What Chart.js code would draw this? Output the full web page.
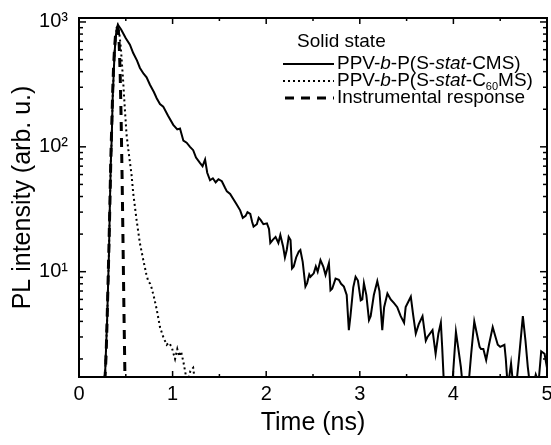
<!DOCTYPE html>
<html><head><meta charset="utf-8">
<script src="https://cdn.jsdelivr.net/npm/chart.js@4.4.1/dist/chart.umd.min.js"></script>
<style>html,body{margin:0;padding:0;background:#fff;}canvas{display:block;}</style>
</head><body>
<canvas id="c" width="551" height="445"></canvas>
<script>
// ---- data ----
const solidTime = [0.26,0.28,0.30,0.32,0.33,0.34,0.35,0.36,0.37,0.38,0.39,0.40,0.415,0.45,0.50,0.544,0.579,0.62,0.651,0.69,0.722,0.758,0.80,0.83,0.865,0.90,0.95,1.007,1.05,1.079,1.115,1.15,1.186,1.22,1.25,1.294,1.32,1.347,1.37,1.40,1.43,1.46,1.49,1.526,1.56,1.58,1.615,1.65,1.68,1.722,1.75,1.78,1.80,1.83,1.85,1.865,1.90,1.92,1.94,1.97,2.008,2.03,2.044,2.07,2.10,2.13,2.151,2.18,2.20,2.22,2.24,2.26,2.276,2.294,2.32,2.348,2.365,2.39,2.419,2.437,2.46,2.473,2.508,2.53,2.55,2.58,2.61,2.634,2.67,2.687,2.705,2.741,2.776,2.80,2.83,2.86,2.883,2.90,2.93,2.955,2.98,3.01,3.027,3.044,3.07,3.098,3.116,3.15,3.187,3.21,3.24,3.26,3.295,3.33,3.366,3.40,3.437,3.473,3.49,3.545,3.57,3.598,3.63,3.67,3.705,3.723,3.777,3.81,3.84,3.866,3.88,3.90,3.93,3.96,3.99,4.027,4.05,4.08,4.10,4.13,4.16,4.19,4.223,4.25,4.28,4.295,4.32,4.35,4.38,4.42,4.45,4.474,4.50,4.545,4.56,4.58,4.60,4.616,4.64,4.67,4.70,4.742,4.77,4.795,4.82,4.85,4.88,4.91,4.938,4.974,5.0];
const solidIntensity = [1.0,1.6,4,14,35,75,120,250,380,560,720,850,950,870,740,658,564,490,428,385,360,314,275,245,220,210,178,150,138,140,112,108,100,94,82,74,70,79,62,54,56,52,55,53,47,44,42,38,35,31,27,28,30,29,25,23,24,27,26,24,24.4,22,17,18,19,17,19.7,16,13,15,19,17.9,10.6,11,13,14.5,14.9,12,7.6,8.1,9.5,9.1,9.7,11,10,12.4,11,9.4,11.7,7.1,7.3,8.8,8.6,8.0,7.6,6.5,3.4,4.4,7.5,9.1,8.5,5.9,6.0,8.1,6.5,4.1,4.4,6.5,8.4,7.0,3.4,5.2,6.7,6.0,5.6,5.2,4.4,3.9,5.2,6.3,4.5,3.2,3.8,4.4,2.8,3.0,3.4,2.2,3.2,3.9,2.5,1.2,1.2,1.2,1.3,3.3,2.5,1.72,1.2,1.2,1.2,2.2,4.0,3.2,2.5,2.4,2.4,1.96,2.6,3.6,3.0,2.6,2.5,2.6,2.0,1.2,1.5,1.84,1.2,1.2,2.0,4.4,2.8,1.72,1.2,1.2,1.5,1.3,2.3,2.2,1.7];

const c60Time = [0.26,0.28,0.30,0.32,0.33,0.34,0.35,0.36,0.37,0.38,0.39,0.40,0.415,0.43,0.447,0.46,0.472,0.49,0.508,0.535,0.561,0.58,0.60,0.615,0.65,0.686,0.72,0.74,0.76,0.776,0.80,0.83,0.865,0.90,0.937,0.96,0.99,1.01,1.026,1.05,1.07,1.09,1.115,1.14,1.16,1.19,1.22,1.24];
const c60Intensity = [1.0,1.6,4,14,35,75,120,250,380,560,720,850,930,820,620,450,334,200,125,85,60,42,32,26,17,12.5,9.5,8.4,8.0,7.4,6.3,5.0,3.6,3.0,2.6,2.7,2.5,2.2,2.0,2.4,2.1,2.3,1.9,1.5,1.3,1.6,1.7,1.3];

const irfTime = [0.26,0.28,0.29,0.30,0.31,0.32,0.33,0.34,0.35,0.36,0.37,0.38,0.39,0.40,0.41,0.42,0.43,0.44,0.45,0.46,0.47,0.48,0.49,0.50];
const irfIntensity = [1.0,1.5,2.2,4,8,16,35,80,150,280,450,620,780,880,900,860,650,380,170,60,18,5,1.6,1.0];

const xTickValues = [0,1,2,3,4,5];
const yTickLabels = {1:'10¹',2:'10²',3:'10³'};
const legendTitle = 'Solid state';
const seriesNames = ['PPV-b-P(S-stat-CMS)','PPV-b-P(S-stat-C60MS)','Instrumental response'];
const xTitle = 'Time (ns)';
const yTitle = 'PL intensity (arb. u.)';

// ---- chart ----
const FONT = "'Liberation Sans', Arial, sans-serif";
Chart.defaults.font.family = FONT;
Chart.defaults.color = '#000';

const toPoints = (t, v) => t.map((x, i) => ({x: x, y: v[i]}));

const legendRows = [
  [['PPV-','n'],['b','i'],['-P(S-','n'],['stat','i'],['-CMS)','n']],
  [['PPV-','n'],['b','i'],['-P(S-','n'],['stat','i'],['-C','n'],['60','s'],['MS)','n']],
  [['Instrumental response','n']]
];
const legendStyles = [
  {dash: [], width: 2},
  {dash: [2,3], width: 2},
  {dash: [9,7], width: 3}
];

const framePlugin = {
  id: 'frame',
  afterDatasetsDraw(chart) {
    const {ctx, chartArea: {left, right, top, bottom}, scales: {x, y}} = chart;
    ctx.save();
    ctx.strokeStyle = '#000';
    ctx.lineWidth = 2;
    ctx.strokeRect(left, top, right - left, bottom - top);
    ctx.lineWidth = 1.5;
    const seg = (x1, y1, x2, y2) => { ctx.beginPath(); ctx.moveTo(x1, y1); ctx.lineTo(x2, y2); ctx.stroke(); };
    for (let k = 0; k <= 10; k++) {
      const v = k * 0.5;
      const px = x.getPixelForValue(v);
      const len = k % 2 === 0 ? 6 : 3;
      seg(px, bottom, px, bottom - len);
      seg(px, top, px, top + len);
    }
    for (let e = 0; e <= 3; e++) {
      for (let m = 1; m <= 9; m++) {
        const v = m * Math.pow(10, e);
        if (v < y.min || v > y.max) continue;
        const py = y.getPixelForValue(v);
        const len = m === 1 ? 7 : 4;
        seg(left, py, left + len, py);
        seg(right, py, right - len, py);
      }
    }
    ctx.restore();
  },
  afterDraw(chart) {
    const ctx = chart.ctx;
    ctx.save();
    ctx.fillStyle = '#000';
    ctx.textBaseline = 'middle';
    ctx.textAlign = 'left';
    const size = 19;
    ctx.font = size + 'px ' + FONT;
    ctx.fillText(legendTitle, 297, 42);
    const rowsY = [64, 81, 98];
    legendRows.forEach((row, r) => {
      const yy = rowsY[r];
      const st = legendStyles[r];
      ctx.beginPath();
      ctx.setLineDash(st.dash);
      ctx.lineWidth = st.width;
      ctx.strokeStyle = '#000';
      ctx.moveTo(r === 2 ? 285 : 283, yy);
      ctx.lineTo(334, yy);
      ctx.stroke();
      ctx.setLineDash([]);
      let xx = 337;
      row.forEach(([txt, kind]) => {
        if (kind === 'i') ctx.font = 'italic ' + size + 'px ' + FONT;
        else if (kind === 's') ctx.font = '11px ' + FONT;
        else ctx.font = size + 'px ' + FONT;
        ctx.fillText(txt, xx, kind === 's' ? yy + 6 : yy);
        xx += ctx.measureText(txt).width;
      });
    });
    ctx.restore();
  }
};

new Chart(document.getElementById('c'), {
  type: 'line',
  data: {
    datasets: [
      {label: seriesNames[0], data: toPoints(solidTime, solidIntensity), borderColor: '#000', borderWidth: 2, pointRadius: 0, tension: 0, clip: 0, fill: false},
      {label: seriesNames[1], data: toPoints(c60Time, c60Intensity), borderColor: '#000', borderWidth: 2, borderDash: [2,3], pointRadius: 0, tension: 0, clip: 0, fill: false},
      {label: seriesNames[2], data: toPoints(irfTime, irfIntensity), borderColor: '#000', borderWidth: 3, borderDash: [9,7], pointRadius: 0, tension: 0, clip: 0, fill: false}
    ]
  },
  options: {
    responsive: false,
    animation: false,
    devicePixelRatio: 1,
    layout: {padding: {left: 0, right: 4, top: 18, bottom: 0}},
    plugins: {legend: {display: false}, tooltip: {enabled: false}},
    scales: {
      x: {
        type: 'linear', min: 0, max: 5,
        afterFit(s) { s.height = 68; s.paddingLeft = 0; s.paddingRight = 0; },
        afterBuildTicks(s) { s.ticks = xTickValues.map(v => ({value: v})); },
        grid: {display: false, drawTicks: false},
        border: {display: false},
        ticks: {padding: 5, font: {size: 20}, color: '#000', autoSkip: false, maxRotation: 0},
        title: {display: true, text: xTitle, font: {size: 25, lineHeight: 1}, padding: {top: 0, bottom: 9}, color: '#000'}
      },
      y: {
        type: 'logarithmic', min: 1.434, max: 1076,
        afterFit(s) { s.width = 79; s.paddingTop = 0; s.paddingBottom = 0; },
        grid: {display: false, drawTicks: false},
        border: {display: false},
        ticks: {
          autoSkip: false, padding: 11, font: {size: 20}, color: '#000',
          callback: function (v) {
            const e = Math.log10(v);
            const r = Math.round(e);
            return Math.abs(e - r) < 1e-9 && yTickLabels[r] ? yTickLabels[r] : '';
          }
        },
        title: {display: true, text: yTitle, font: {size: 25, lineHeight: 1}, padding: {top: 11, bottom: 0}, color: '#000'}
      }
    }
  },
  plugins: [framePlugin]
});
</script>
</body></html>
